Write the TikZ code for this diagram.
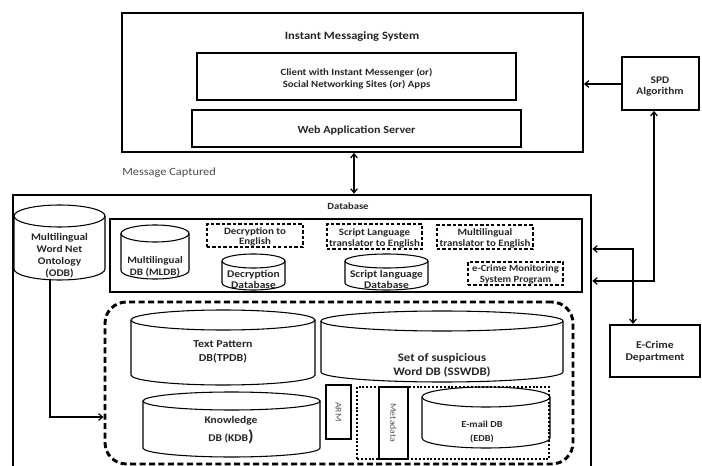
\documentclass[tikz,border=0pt]{standalone}
\usepackage{fontspec}
\setmainfont{Carlito}[FakeStretch=1.12]
\usetikzlibrary{arrows.meta,fit}
\newcommand\mycyl[7][]{%
  \draw[cylline,#1] (#3,#4+#7) -- (#3,#6-#7) arc[start angle=180,end angle=0,x radius={(#5-#3)/2},y radius=#7] -- (#5,#4+#7);
  \draw[cylline,#1] ({(#3+#5)/2},#4+#7) ellipse[x radius={(#5-#3)/2},y radius=#7];
  \node[fit={(#3,#4)(#5,#6)},inner sep=0pt] (#2) {};
}
\newcommand\bfs[2]{\bfseries\fontsize{#1}{#2}\selectfont}
\begin{document}
\begin{tikzpicture}[x=0.75pt,y=-0.75pt,
  font=\bfs{7.5}{8.5},
  every node/.style={align=center,text=black!85},
  lbl/.style={yshift=-1.2pt},
  lbs/.style={yshift=-0.6pt},
  fitbox/.style={fit={#1},inner sep=0pt},
  box/.style={draw,line width=0.9pt},
  thickbox/.style={draw,line width=1.4pt},
  dbox/.style={draw,line width=0.9pt,dash pattern=on 2.5pt off 1.6pt},
  cylline/.style={line width=0.8pt},
  arr/.style={line width=0.9pt,-{Straight Barb[length=3pt,width=5pt]}},
  darr/.style={line width=0.9pt,{Straight Barb[length=3pt,width=5pt]}-{Straight Barb[length=3pt,width=5pt]}},
  plain/.style={font=\fontsize{6.6}{8}\selectfont,text=black!65}]
\clip (0,0) rectangle (702,466);
\fill[white] (0,0) rectangle (702,466);

% Instant messaging system
\node[thickbox,fitbox={(122,13)(583,152)}] (ims) {};
\node[lbl,font=\bfs{8.4}{10}] (imst) at (352,35) {Instant Messaging System};
\node[box,fitbox={(197,53)(516,100)}] (client) {};
\node[lbl,font=\bfs{7.2}{9}] (clientt) at (356.5,77) {Client with Instant Messenger (or)\\Social Networking Sites (or) Apps};
\node[box,fitbox={(192,110)(521,147)}] (web) {};
\node[lbl,font=\bfs{8.1}{10}] (webt) at (356.5,128.5) {Web Application Server};

\node[thickbox,fitbox={(622,57)(699,110)}] (spd) {};
\node[lbl,font=\bfs{7.6}{8.3}] (spdt) at (660,84.5) {SPD\\Algorithm};
\node[thickbox,line width=1.6pt,fitbox={(610,325)(700,377)}] (ecd) {};
\node[lbl,font=\bfs{7.8}{9}] (ecdt) at (655,350) {E-Crime\\Department};

\node[anchor=west,font=\fontsize{8.3}{10}\selectfont,text=black!70,inner sep=0pt] (msg) at (122,173) {Message Captured};

% Database
\node[draw,line width=2pt,fitbox={(13,195)(591,490)}] (db) {};
\node[lbl,font=\bfs{7.1}{8}] (dbt) at (348,205) {Database};
\node[box,line width=1pt,fitbox={(110,219)(582,292)}] (inner) {};

\mycyl{odb}{14}{205}{105}{280}{11}
\node[lbl,font=\bfs{7.6}{9}] (odbt) at (59.5,254) {Multilingual\\Word Net\\Ontology\\(ODB)};
\mycyl{mldb}{121}{225}{189}{279}{8.5}
\node[lbl,font=\bfs{7.4}{9}] (mldbt) at (155,265) {Multilingual\\DB (MLDB)};
\node[dbox,fitbox={(207,224)(303,247)}] (dec) {};
\node[lbs,font=\bfs{7.3}{7.5}] (dect) at (255,236) {Decryption to\\English};
\mycyl{decdb}{222}{254}{285}{290}{7}
\node[lbl,font=\bfs{7.7}{8.3}] (decdbt) at (253.5,277.5) {Decryption\\Database};
\node[dbox,fitbox={(327,224)(422,249)}] (slt) {};
\node[lbs,font=\bfs{7.3}{7.8}] (sltt) at (374.5,237.5) {Script Language\\translator to English};
\mycyl{sldb}{345}{254}{428}{290}{7}
\node[lbl,font=\bfs{7.7}{8.3}] (sldbt) at (386.5,277.5) {Script language\\Database};
\node[dbox,fitbox={(437,225)(533,249)}] (mlt) {};
\node[lbs,font=\bfs{7.3}{7.8}] (mltt) at (485,237.5) {Multilingual\\translator to English};
\node[dbox,fitbox={(468,262)(563,285)}] (ecm) {};
\node[lbs,font=\bfs{7.1}{7.8}] (ecmt) at (515.5,273.5) {e-Crime Monitoring\\System Program};

% Core dashed region
\node[draw,line width=2.2pt,dash pattern=on 4.5pt off 2.6pt,rounded corners=16pt,fitbox={(105,302)(573,464)}] (core) {};
\mycyl{tpdb}{131}{310}{315}{385}{10}
\node[lbl,font=\bfs{8}{10.5}] (tpdbt) at (223,350) {Text Pattern\\DB(TPDB)};
\mycyl{sswdb}{321}{311}{563}{382}{10}
\node[lbl,font=\bfs{8.6}{10.5}] (sswdbt) at (442,364) {Set of suspicious\\Word DB (SSWDB)};
\mycyl{kdb}{143}{392}{320}{457}{9}
\node[lbl,font=\bfs{7.7}{13.5}] (kdbt) at (231,429) {Knowledge\\DB (KDB{\fontsize{12}{12}\selectfont)}};
\node[box,line width=0.8pt,fitbox={(326,385)(351,439)}] (arm) {};
\node[plain,rotate=-90] (armt) at (338.5,412) {ARM};
\node[draw,line width=1.6pt,dash pattern=on 1.5pt off 1.4pt,fitbox={(357,387)(549,459)}] (dot) {};
\node[box,line width=0.8pt,fitbox={(379,387)(408,459)}] (meta) {};
\node[plain,rotate=-90] (metat) at (393.5,423) {Metadata};
\mycyl{edb}{422}{387}{550}{448}{10}
\node[lbl,font=\bfs{6.9}{10.5}] (edbt) at (482,430) {E-mail DB\\(EDB)};

% connectors
\draw[darr] (ims.south -| 354,0) -- (db.north -| 354,0);
\draw[arr] (spd.west |- 0,84) -- (ims.east |- 0,84);
\draw[darr] (db.east |- 0,281) -- (654,281) -- (spd.south -| 654,0);
\draw[darr] (db.east |- 0,249) -- (633,249) -- (ecd.north -| 633,0);
\draw[arr] (odb.south -| 50,0) -- (50,417) -- (core.west |- 0,417);
\end{tikzpicture}
\end{document}
